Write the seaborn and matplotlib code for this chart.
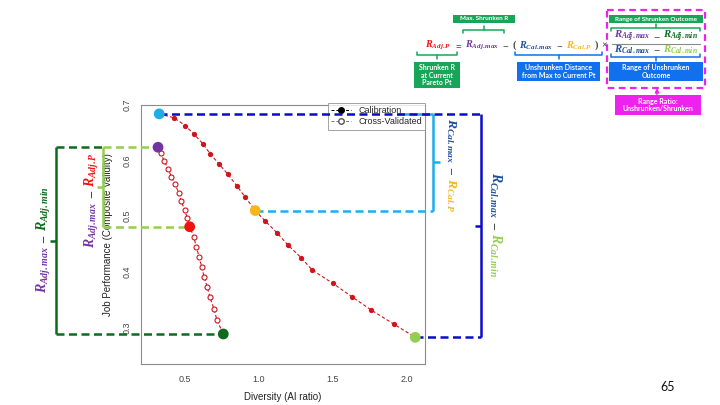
import matplotlib
matplotlib.use("Agg")
import matplotlib.pyplot as plt
import matplotlib.transforms as mtransforms
from matplotlib.lines import Line2D
from matplotlib.patches import Rectangle
import pandas as pd
import seaborn as sns

# 数据
cal_x = [0.326, 0.426, 0.502, 0.563, 0.622, 0.671, 0.730, 0.791, 0.849, 0.908, 0.975,
         1.043, 1.122, 1.196, 1.286, 1.360, 1.500, 1.628, 1.759, 1.910, 2.056]
cal_y = [0.684, 0.677, 0.663, 0.647, 0.630, 0.612, 0.594, 0.575, 0.555, 0.534, 0.510,
         0.491, 0.470, 0.448, 0.425, 0.403, 0.379, 0.355, 0.331, 0.306, 0.282]
cv_x = [0.318, 0.338, 0.358, 0.387, 0.408, 0.435, 0.457, 0.475, 0.498, 0.516, 0.532,
        0.559, 0.577, 0.595, 0.613, 0.630, 0.651, 0.669, 0.696, 0.716, 0.759]
cv_y = [0.624, 0.613, 0.600, 0.585, 0.571, 0.557, 0.542, 0.527, 0.511, 0.496, 0.481,
        0.463, 0.445, 0.427, 0.409, 0.390, 0.372, 0.354, 0.333, 0.313, 0.288]
x_ticks = [0.5, 1.0, 1.5, 2.0]
x_tick_labels = ["0.5", "1.0", "1.5", "2.0"]
y_ticks = [0.3, 0.4, 0.5, 0.6, 0.7]
y_tick_labels = ["0.3", "0.4", "0.5", "0.6", "0.7"]
series_names = ["Calibration", "Cross-Validated"]

# colours
RED = "#D0141C"
CYAN = "#1DAEEA"
YELLOW = "#F7B719"
LTGREEN = "#92CF50"
PURPLE = "#7334A2"
KEYRED = "#F51010"
DKGREEN = "#0E6A1E"
DKBLUE = "#1F4E9A"
BLUE = "#0A0ACC"
GRAY = "#4a4a4a"
BOXGREEN = "#17A557"
BOXBLUE = "#1170EE"
MAGENTA = "#EE22EE"

sns.set_style("white")
plt.rcParams["font.family"] = ["Liberation Sans", "DejaVu Sans"]
plt.rcParams["mathtext.fontset"] = "custom"
plt.rcParams["mathtext.it"] = "Liberation Serif:italic:bold"
plt.rcParams["mathtext.rm"] = "Liberation Serif:bold"
plt.rcParams["mathtext.bf"] = "Liberation Serif:bold"

W, H = 720, 405
fig = plt.figure(figsize=(7.2, 4.05), dpi=100)
fig.patch.set_facecolor("white")
ax = fig.add_axes([141 / W, 1 - 364 / H, 284 / W, 259 / H])

df_cal = pd.DataFrame({"Diversity": cal_x, "Validity": cal_y})
df_cv = pd.DataFrame({"Diversity": cv_x, "Validity": cv_y})

sns.lineplot(data=df_cal, x="Diversity", y="Validity", ax=ax, sort=False, color=RED,
             lw=0.8, linestyle=(0, (3, 2)), marker="o", markersize=3.8,
             markeredgewidth=0, markerfacecolor=RED, zorder=3)
sns.lineplot(data=df_cv, x="Diversity", y="Validity", ax=ax, sort=False, color=RED,
             lw=0.8, linestyle=(0, (3, 2)), marker="o", markersize=3.6,
             markeredgewidth=0.8, markerfacecolor="white", markeredgecolor=RED, zorder=3)

# highlighted Pareto points
key_x = [cal_x[0], cal_x[10], cal_x[-1], cv_x[0], cv_x[10], cv_x[-1]]
key_y = [cal_y[0], cal_y[10], cal_y[-1], cv_y[0], cv_y[10], cv_y[-1]]
key_names = ["cal_max", "cal_p", "cal_min", "adj_max", "adj_p", "adj_min"]
key_pal = {"cal_max": CYAN, "cal_p": YELLOW, "cal_min": LTGREEN,
           "adj_max": PURPLE, "adj_p": KEYRED, "adj_min": DKGREEN}
sns.scatterplot(x=key_x, y=key_y, hue=key_names, palette=key_pal, s=60, linewidth=0,
                legend=False, ax=ax, zorder=7)

ax.set_xlim(0.203, 2.122)
ax.set_ylim(0.234, 0.700)
ax.set_xticks(x_ticks)
ax.set_xticklabels(x_tick_labels)
ax.set_yticks(y_ticks)
ax.set_yticklabels(y_tick_labels, rotation=90, va="center")
ax.tick_params(direction="out", length=3, width=0.7, colors="#8c8c8c",
               labelcolor="#444444", labelsize=6.5)
ax.tick_params(axis="x", pad=5)
ax.tick_params(axis="y", pad=4)
for sp in ax.spines.values():
    sp.set_color("#8c8c8c")
    sp.set_linewidth(0.8)
ax.set_xlabel("Diversity (AI ratio)", fontsize=7, color="#222222")
ax.set_ylabel("Job Performance (Composite Validity)", fontsize=7, color="#222222")
ax.xaxis.set_label_coords(0.5, -0.11)
ax.yaxis.set_label_coords(-0.1, 0.5)

handles = [Line2D([0], [0], color="black", lw=0.7, linestyle=(0, (3, 2)), marker="o",
                  markersize=4, markerfacecolor="black"),
           Line2D([0], [0], color="#777777", lw=0.7, linestyle=(0, (3, 2)), marker="o",
                  markersize=4, markerfacecolor="white", markeredgecolor="#555555")]
leg = ax.legend(handles, series_names, loc="upper right", bbox_to_anchor=(1.0, 1.008),
                frameon=True, fancybox=False, edgecolor="#8c8c8c", fontsize=6.5,
                borderaxespad=0, handlelength=2.2, labelspacing=0.25, borderpad=0.35)
leg.get_frame().set_linewidth(0.7)
leg.set_zorder(5)

# overlay in slide pixels (origin top-left)
over = fig.add_axes([0, 0, 1, 1])
over.set_xlim(0, W)
over.set_ylim(H, 0)
over.axis("off")
over.patch.set_visible(False)

blend = mtransforms.blended_transform_factory(over.transData, ax.transData)


def px_x(xd):
    return over.transData.inverted().transform(ax.transData.transform((xd, 0.5)))[0]


DASH = (0, (3.2, 1.8))


def guide(xs, ys, color, dashed=True):
    ax.plot(xs, ys, transform=blend, color=color, lw=1.8, clip_on=False, zorder=6,
            linestyle=DASH if dashed else "-", solid_capstyle="butt")


# left brackets (shrunken outcome)
ym = (cv_y[0] + cv_y[-1]) / 2
guide([56, 56], [cv_y[0], cv_y[-1]], DKGREEN, dashed=False)
guide([56, 103], [cv_y[0], cv_y[0]], DKGREEN)
guide([56, px_x(cv_x[-1])], [cv_y[-1], cv_y[-1]], DKGREEN)
guide([50, 56], [ym, ym], DKGREEN, dashed=False)
ym = (cv_y[0] + cv_y[10]) / 2
guide([103, 103], [cv_y[0], cv_y[10]], LTGREEN, dashed=False)
guide([103, px_x(cv_x[0])], [cv_y[0], cv_y[0]], LTGREEN)
guide([103, px_x(cv_x[10])], [cv_y[10], cv_y[10]], LTGREEN)
guide([97, 103], [ym, ym], LTGREEN, dashed=False)

# right brackets (unshrunken outcome)
ym = (cal_y[0] + cal_y[10]) / 2
guide([397, 433], [cal_y[0], cal_y[0]], CYAN, dashed=False)
guide([433, 433], [cal_y[0], cal_y[10]], CYAN, dashed=False)
guide([px_x(cal_x[10]), 433], [cal_y[10], cal_y[10]], CYAN)
guide([433, 440], [ym, ym], CYAN, dashed=False)
ym = (cal_y[0] + cal_y[-1]) / 2
guide([481, 481], [cal_y[0], cal_y[-1]], BLUE, dashed=False)
guide([px_x(cal_x[0]), 481], [cal_y[0], cal_y[0]], BLUE)
guide([px_x(cal_x[-1]), 481], [cal_y[-1], cal_y[-1]], BLUE)
guide([475, 481], [ym, ym], BLUE, dashed=False)

renderer = fig.canvas.get_renderer()


def rich(x, y, pieces, size, rot=0, fit=None, align="center", gap=1.5):
    def build(sz):
        ts, ws = [], []
        for s, c in pieces:
            t = over.text(0, 0, s, color=c, fontsize=sz, rotation=0,
                          rotation_mode="anchor", ha="left", va="baseline")
            ws.append(t.get_window_extent(renderer).width)
            ts.append(t)
        return ts, ws
    ts, ws = build(size)
    total = sum(ws) + gap * (len(ws) - 1)
    if fit:
        for t in ts:
            t.remove()
        ts, ws = build(size * fit / total)
        total = sum(ws) + gap * (len(ws) - 1)
    pos = -total / 2 if align == "center" else 0
    for t, w in zip(ts, ws):
        mid = pos + w / 2
        t.set_ha("center")
        t.set_rotation(rot)
        if rot == 0:
            t.set_position((x + mid, y))
        elif rot == 90:
            t.set_position((x, y - mid))
        else:
            t.set_position((x, y + mid))
        pos += w + gap


MINUS = (r"$-$", GRAY)
rich(47, 240, [(r"$R_{Adj.max}$", PURPLE), MINUS, (r"$R_{Adj.min}$", DKGREEN)],
     12, rot=90, fit=105, gap=3)
rich(95, 200, [(r"$R_{Adj.max}$", PURPLE), MINUS, (r"$R_{Adj.P}$", KEYRED)],
     12, rot=90, fit=94, gap=3)
rich(448, 165, [(r"$R_{Cal.max}$", DKBLUE), MINUS, (r"$R_{Cal.P}$", YELLOW)],
     10, rot=-90, fit=94, gap=3)
rich(491, 225, [(r"$R_{Cal.max}$", DKBLUE), MINUS, (r"$R_{Cal.min}$", LTGREEN)],
     10, rot=-90, fit=105, gap=3)

# top formula
rich(425, 48, [(r"$R_{Adj.P}$", KEYRED), (r"$=$", GRAY), (r"$R_{Adj.max}$", PURPLE), MINUS,
               (r"$($", GRAY), (r"$R_{Cal.max}$", DKBLUE), MINUS, (r"$R_{Cal.P}$", YELLOW),
               (r"$)\ \times$", GRAY)],
     8, fit=180, align="left", gap=2.5)
rich(656, 39, [(r"$R_{Adj.max}$", PURPLE), MINUS, (r"$R_{Adj.min}$", DKGREEN)],
     8, fit=84, gap=2.5)
rich(656, 52.5, [(r"$R_{Cal.max}$", DKBLUE), MINUS, (r"$R_{Cal.min}$", LTGREEN)],
     8, fit=84, gap=2.5)
over.plot([612, 700], [43.5, 43.5], color="#8a8a8a", lw=0.8)


def brace(x0, x1, y, ends, color):
    # ends: +1 -> ends turn down, tick up; -1 -> ends turn up, tick down
    over.plot([x0, x0, x1, x1], [y + ends * 3, y, y, y + ends * 3], color=color, lw=1.1)
    xm = (x0 + x1) / 2
    over.plot([xm, xm], [y, y - ends * 4], color=color, lw=1.1)


def box(x0, y0, x1, y1, text, fc, size=5):
    over.add_patch(Rectangle((x0, y0), x1 - x0, y1 - y0, facecolor=fc, edgecolor="none"))
    over.text((x0 + x1) / 2, (y0 + y1) / 2, text, color="white", fontsize=size,
              ha="center", va="center", family=["Lato", "DejaVu Sans"], weight="bold",
              linespacing=1.15)


box(453, 15, 515, 23, "Max. Shrunken R", BOXGREEN, 4.6)
brace(463, 504, 30, 1, BOXGREEN)
brace(417, 457, 55, -1, BOXGREEN)
box(414, 62, 460, 88, "Shrunken R\nat Current\nPareto Pt", BOXGREEN)
brace(515, 602, 55, -1, BOXBLUE)
box(517, 62, 600, 81, "Unshrunken Distance\nfrom Max to Current Pt", BOXBLUE)

over.add_patch(Rectangle((607, 10), 98, 78, fill=False, edgecolor=MAGENTA, lw=1.6,
                         linestyle=(0, (3, 2))))
box(609, 15, 703, 23, "Range of Shrunken Outcome", BOXGREEN, 4.6)
brace(611, 700, 28, 1, BOXGREEN)
brace(611, 700, 56.5, -1, BOXBLUE)
box(609, 62, 703, 81, "Range of Unshrunken\nOutcome", BOXBLUE)
box(615, 95, 701, 115, "Range Ratio:\nUnshrunken/Shrunken", MAGENTA)
over.annotate("", xy=(657, 88), xytext=(657, 95),
              arrowprops=dict(arrowstyle="-|>", color=MAGENTA, lw=1, mutation_scale=6,
                              shrinkA=0, shrinkB=0))

over.text(668, 387, "65", fontsize=9, ha="center", va="center",
          family=["Lato", "DejaVu Sans"], color="#111111")

fig.savefig("out.png", dpi=100)
